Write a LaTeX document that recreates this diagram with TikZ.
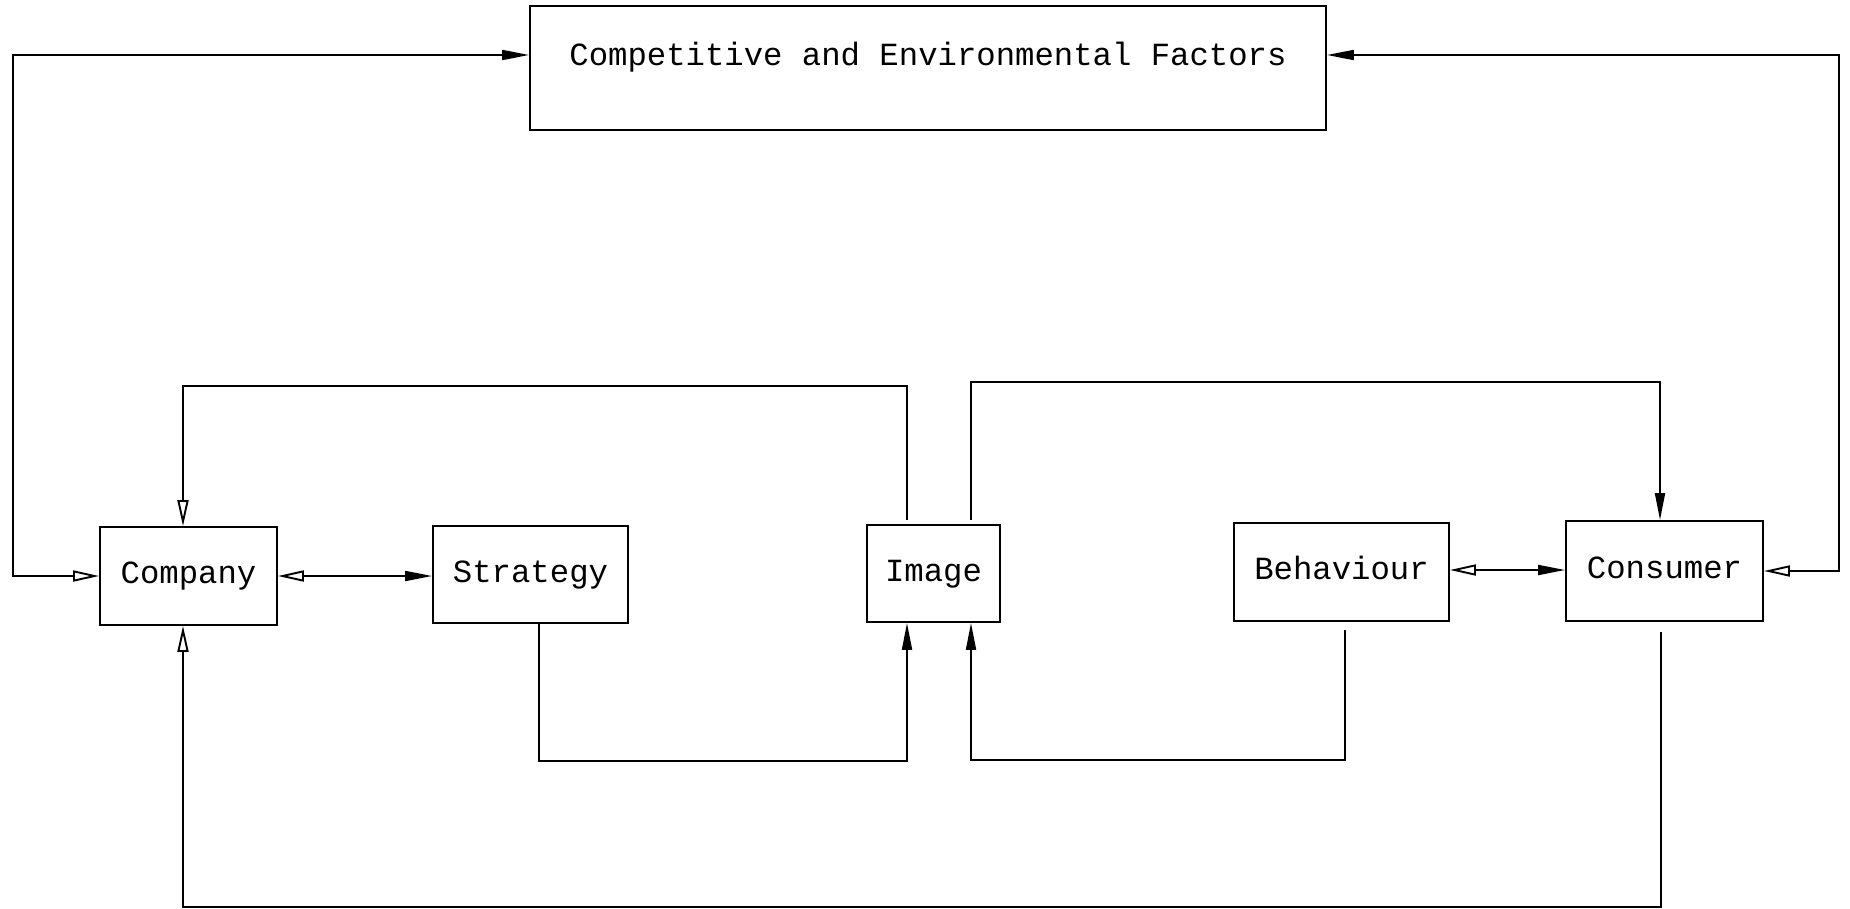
\documentclass[tikz,border=0pt]{standalone}
\usepackage{fontspec}
\setmonofont{Liberation Mono}
\usetikzlibrary{arrows.meta}
\begin{document}
\begin{tikzpicture}[x=1pt,y=-1pt,
  box/.style={draw, line width=1.9pt, inner sep=0pt,
    font=\ttfamily\fontsize{32.3}{38}\selectfont,
    text height=22pt, text depth=7pt},
  conn/.style={line width=1.9pt},
  fa/.tip={Triangle[length=27pt,width=10pt]},
  oa/.tip={Triangle[open,length=26pt,width=11pt]},
]
\useasboundingbox (0,0) rectangle (1850,908);

% boxes
\node[box, minimum width=796pt, minimum height=124pt,
      text height=20pt, text depth=26pt] (env) at (928,68)
      {Competitive and Environmental Factors};
\node[box, minimum width=177pt, minimum height=98pt] (comp) at (188.5,576) {Company};
\node[box, minimum width=195pt, minimum height=97pt] (strat) at (530.5,574.5) {Strategy};
\node[box, minimum width=133pt, minimum height=97pt] (img) at (933.5,573.5) {Image};
\node[box, minimum width=215pt, minimum height=98pt] (beh) at (1341.5,572) {Behaviour};
\node[box, minimum width=197pt, minimum height=100pt] (cons) at (1664.5,571) {Consumer};

% outer links to the environment box
\draw[conn, oa-fa] (comp.west) -- ++(-86,0) |- ([yshift=13pt]env.west);
\draw[conn, oa-fa] (cons.east) -- ++(75,0) |- ([yshift=13pt]env.east);

% horizontal two-way links
\draw[conn, oa-fa] (comp.east) -- (comp.east -| strat.west);
\draw[conn, oa-fa] ([yshift=2pt]beh.east) -- ([yshift=2pt]beh.east -| cons.west);

% feedback loops above
\draw[conn, -oa] ([xshift=-26.5pt,yshift=4pt]img.north) -- ++(0,-134) -| ([xshift=-5.5pt]comp.north);
\draw[conn, -fa] ([xshift=37.5pt,yshift=4pt]img.north) -- ++(0,-138) -| ([xshift=-4.5pt]cons.north);

% loops below into Image
\draw[conn, -fa] ([xshift=8.5pt]strat.south) -- ++(0,137) -| ([xshift=-26.5pt]img.south);
\draw[conn, -fa] ([xshift=3.5pt,yshift=-8pt]beh.south) -- ++(0,130) -| ([xshift=37.5pt]img.south);

% long loop from Consumer back to Company
\draw[conn, -oa] ([xshift=-3.5pt,yshift=-10pt]cons.south) -- ++(0,275) -| ([xshift=-5.5pt]comp.south);
\end{tikzpicture}
\end{document}
